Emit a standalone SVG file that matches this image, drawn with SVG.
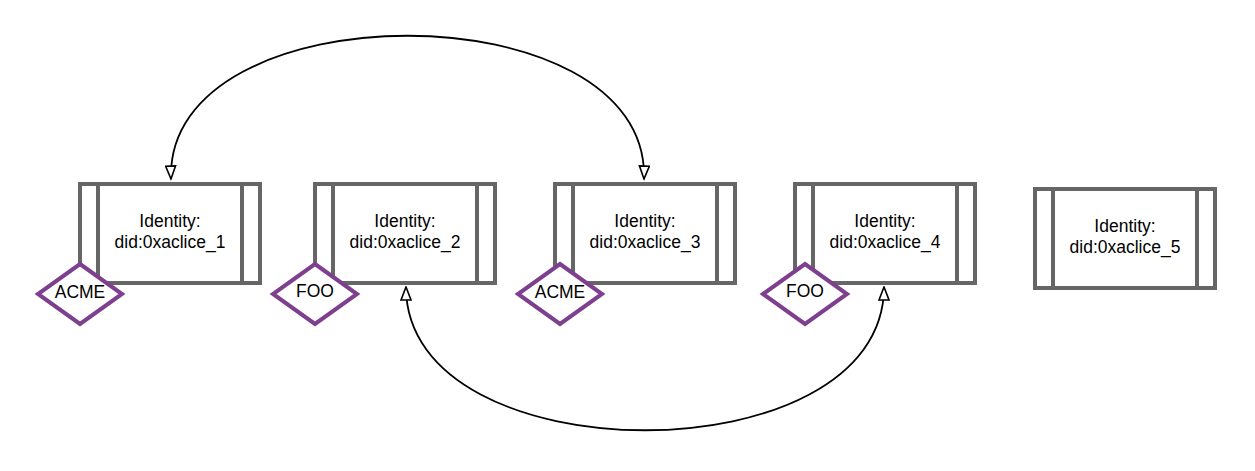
<svg xmlns="http://www.w3.org/2000/svg" width="1255" height="471" viewBox="0 0 1255 471">
<style>
.box{fill:#fff;stroke:#666;stroke-width:4}
.bar{stroke:#666;stroke-width:4}
.lbl{font-family:"Liberation Sans",Arial,sans-serif;font-size:17.5px;fill:#000;text-anchor:middle}
.dia{fill:#fff;stroke:#7e3f8f;stroke-width:4;stroke-linejoin:miter}
.tag{font-family:"Liberation Sans",Arial,sans-serif;font-size:17.5px;fill:#000;text-anchor:middle}
.conn{fill:none;stroke:#000;stroke-width:1.8}
</style>
<defs>
<marker id="arr" markerUnits="userSpaceOnUse" viewBox="0 0 16 12" markerWidth="16" markerHeight="12" refX="14.5" refY="6" orient="auto-start-reverse">
<path d="M1.5,1 L14.5,6 L1.5,11 Z" fill="#fff" stroke="#000" stroke-width="1.6" stroke-linejoin="miter"/>
</marker>
</defs>
<rect width="1255" height="471" fill="#fff"/>
<g id="connectors">
<path class="conn" d="M171,179 C165,-12 650,-12 644,179" marker-start="url(#arr)" marker-end="url(#arr)"/>
<path class="conn" d="M406,287 C406,478 884,478 884,287" marker-start="url(#arr)" marker-end="url(#arr)"/>
</g>
<g id="node1">
<rect class="box" x="80" y="184" width="180" height="99"/>
<line class="bar" x1="98" y1="184" x2="98" y2="283"/>
<line class="bar" x1="242" y1="184" x2="242" y2="283"/>
<text class="lbl" x="170" y="227">Identity:</text>
<text class="lbl" x="170" y="248">did:0xaclice_1</text>
</g>
<g id="node2">
<rect class="box" x="315" y="184" width="180" height="99"/>
<line class="bar" x1="333" y1="184" x2="333" y2="283"/>
<line class="bar" x1="477" y1="184" x2="477" y2="283"/>
<text class="lbl" x="405" y="227">Identity:</text>
<text class="lbl" x="405" y="248">did:0xaclice_2</text>
</g>
<g id="node3">
<rect class="box" x="555" y="184" width="180" height="99"/>
<line class="bar" x1="573" y1="184" x2="573" y2="283"/>
<line class="bar" x1="717" y1="184" x2="717" y2="283"/>
<text class="lbl" x="645" y="227">Identity:</text>
<text class="lbl" x="645" y="248">did:0xaclice_3</text>
</g>
<g id="node4">
<rect class="box" x="795" y="184" width="180" height="99"/>
<line class="bar" x1="813" y1="184" x2="813" y2="283"/>
<line class="bar" x1="957" y1="184" x2="957" y2="283"/>
<text class="lbl" x="885" y="227">Identity:</text>
<text class="lbl" x="885" y="248">did:0xaclice_4</text>
</g>
<g id="node5">
<rect class="box" x="1035" y="189" width="180" height="99"/>
<line class="bar" x1="1053" y1="189" x2="1053" y2="288"/>
<line class="bar" x1="1197" y1="189" x2="1197" y2="288"/>
<text class="lbl" x="1125" y="232">Identity:</text>
<text class="lbl" x="1125" y="253">did:0xaclice_5</text>
</g>
<g id="tag1">
<polygon class="dia" points="80,264 122,294 80,324 38,294"/>
<text class="tag" x="80" y="298">ACME</text>
</g>
<g id="tag2">
<polygon class="dia" points="315,264 357,294 315,324 273,294"/>
<text class="tag" x="315" y="297">FOO</text>
</g>
<g id="tag3">
<polygon class="dia" points="560,264 602,294 560,324 518,294"/>
<text class="tag" x="560" y="298">ACME</text>
</g>
<g id="tag4">
<polygon class="dia" points="805,264 847,294 805,324 763,294"/>
<text class="tag" x="805" y="297">FOO</text>
</g>
</svg>
